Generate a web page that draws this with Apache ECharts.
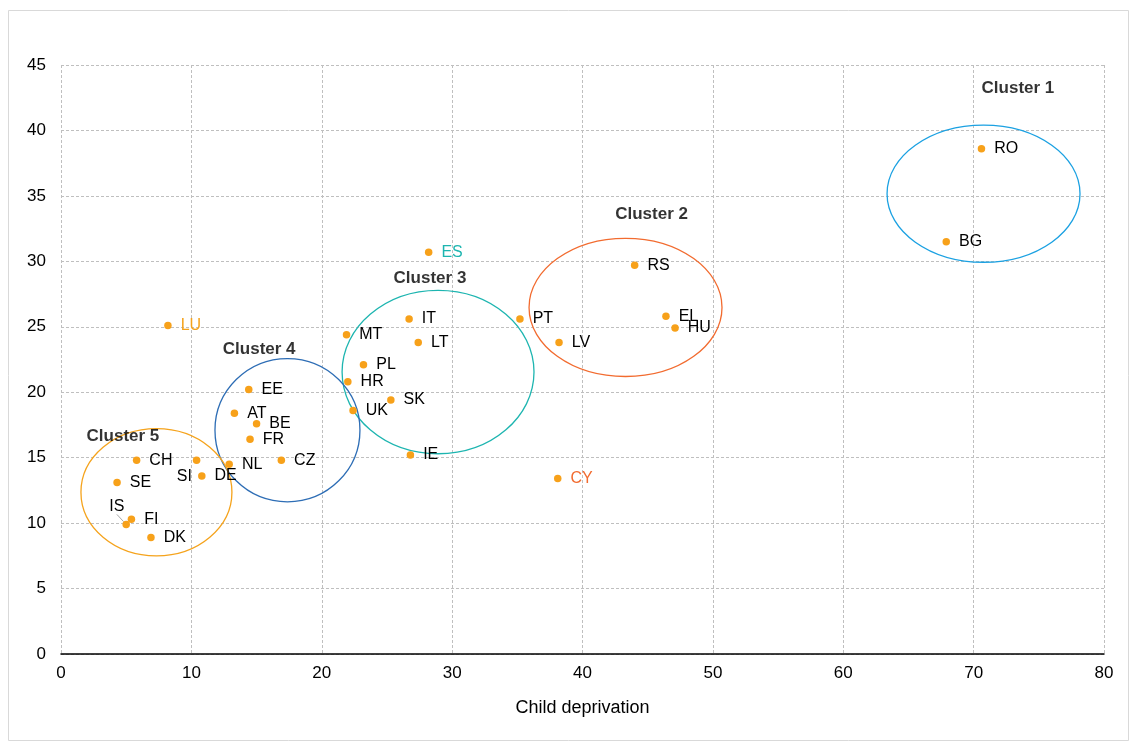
<!DOCTYPE html>
<html>
<head>
<meta charset="utf-8">
<script src="https://cdn.jsdelivr.net/npm/echarts@6/dist/echarts.min.js"></script>
<style>html,body{margin:0;padding:0;background:#fff}#c{width:1130px;height:742px}</style>
</head>
<body>
<div id="c"></div>
<script>
// Data
const countries = ['RO','BG','RS','EL','HU','PT','LV','CY','ES','IT','LT','MT','PL','HR','SK','UK','IE','LU','EE','AT','BE','FR','CZ','NL','SI','DE','CH','SE','IS','FI','DK'];
const childDeprivation = [70.6,67.9,44.0,46.4,47.1,35.2,38.2,38.1,28.2,26.7,27.4,21.9,23.2,22.0,25.3,22.4,26.8,8.2,14.4,13.3,15.0,14.5,16.9,12.9,10.4,10.8,5.8,4.3,5.0,5.4,6.9];
const yValues = [38.6,31.5,29.7,25.8,24.9,25.6,23.8,13.4,30.7,25.6,23.8,24.4,22.1,20.8,19.4,18.6,15.2,25.1,20.2,18.4,17.6,16.4,14.8,14.5,14.8,13.6,14.8,13.1,9.9,10.3,8.9];
const labelColors = {LU:'#F5A31C', ES:'#1DB5B0', CY:'#F26B2F'};

const clusterNames = ['Cluster 1','Cluster 2','Cluster 3','Cluster 4','Cluster 5'];
const clusterCx = [70.76,43.3,28.92,17.37,7.32];
const clusterCy = [35.17,26.48,21.54,17.10,12.36];
const clusterRx = [7.40,7.40,7.36,5.56,5.79];
const clusterRy = [5.24,5.28,6.24,5.47,4.86];
const clusterColors = ['#1BA1E2','#F26B2F','#1DB5B0','#2D6DB5','#F5A31C'];
const clusterLabelX = [73.4,45.3,28.3,15.2,4.75];
const clusterLabelY = [43.2,33.6,28.7,23.3,16.6];

const FONT = 'Liberation Sans, Arial, sans-serif';

const pointData = countries.map((c,i)=>{
  const item = {name:c, value:[childDeprivation[i], yValues[i]]};
  const lbl = {};
  if (labelColors[c]) lbl.color = labelColors[c];
  if (c === 'SI' || c === 'IS') { lbl.position = 'left'; }
  item.label = lbl;
  if (c === 'IS') item.labelLine = {show:true, lineStyle:{color:'#A6A6A6', width:1}};
  return item;
});

const ellipseData = clusterNames.map((n,i)=>[clusterCx[i],clusterCy[i],clusterRx[i],clusterRy[i],i]);
const clusterLabelData = clusterNames.map((n,i)=>({name:n, value:[clusterLabelX[i],clusterLabelY[i]]}));

const chart = echarts.init(document.getElementById('c'), null, {renderer:'canvas'});
chart.setOption({
  animation:false,
  backgroundColor:'#fff',
  graphic:[{type:'rect', shape:{x:8.5,y:10.5,width:1120,height:730}, style:{fill:'none', stroke:'#D9D9D9', lineWidth:1}, silent:true, z:-1}],
  grid:{left:61, right:26, top:65, bottom:88},
  xAxis:{
    type:'value', min:0, max:80, interval:10,
    name:'Child deprivation', nameLocation:'middle', nameGap:45,
    nameTextStyle:{fontFamily:FONT, fontSize:18, color:'#000'},
    axisLine:{show:true, onZero:false, lineStyle:{color:'#000', width:1.5}},
    axisTick:{show:false},
    axisLabel:{fontFamily:FONT, fontSize:17, color:'#000', margin:11},
    splitLine:{show:true, lineStyle:{color:'#BFBFBF', type:[3,2], width:1}}
  },
  yAxis:{
    type:'value', min:0, max:45, interval:5,
    axisLine:{show:false}, axisTick:{show:false},
    axisLabel:{fontFamily:FONT, fontSize:17, color:'#000', margin:15},
    splitLine:{show:true, lineStyle:{color:'#BFBFBF', type:[3,2], width:1}}
  },
  series:[
    {
      type:'custom', z:2, silent:true,
      data:ellipseData,
      renderItem:function(params, api){
        const c = api.coord([api.value(0), api.value(1)]);
        const s = api.size([api.value(2), api.value(3)]);
        return {type:'ellipse', shape:{cx:c[0], cy:c[1], rx:s[0], ry:s[1]},
          style:{fill:'none', stroke:clusterColors[api.value(4)], lineWidth:1.3}};
      }
    },
    {
      type:'scatter', z:3,
      symbolSize:7.5,
      itemStyle:{color:'#F7A11A', opacity:1},
      label:{show:true, position:'right', distance:9, formatter:'{b}', fontFamily:FONT, fontSize:16, color:'#000'},
      labelLayout:function(p){
        if (p.dataIndex === countries.indexOf('IS')) {
          return {dx:11, dy:-18};
        }
        if (p.dataIndex === countries.indexOf('SI')) {
          return {dx:8, dy:16};
        }
        return {};
      },
      data:pointData
    },
    {
      type:'scatter', z:4, symbolSize:0, silent:true,
      label:{show:true, position:'inside', formatter:'{b}', fontFamily:FONT, fontSize:17, fontWeight:'bold', color:'#000'},
      data:clusterLabelData
    }
  ]
});
</script>
</body>
</html>
